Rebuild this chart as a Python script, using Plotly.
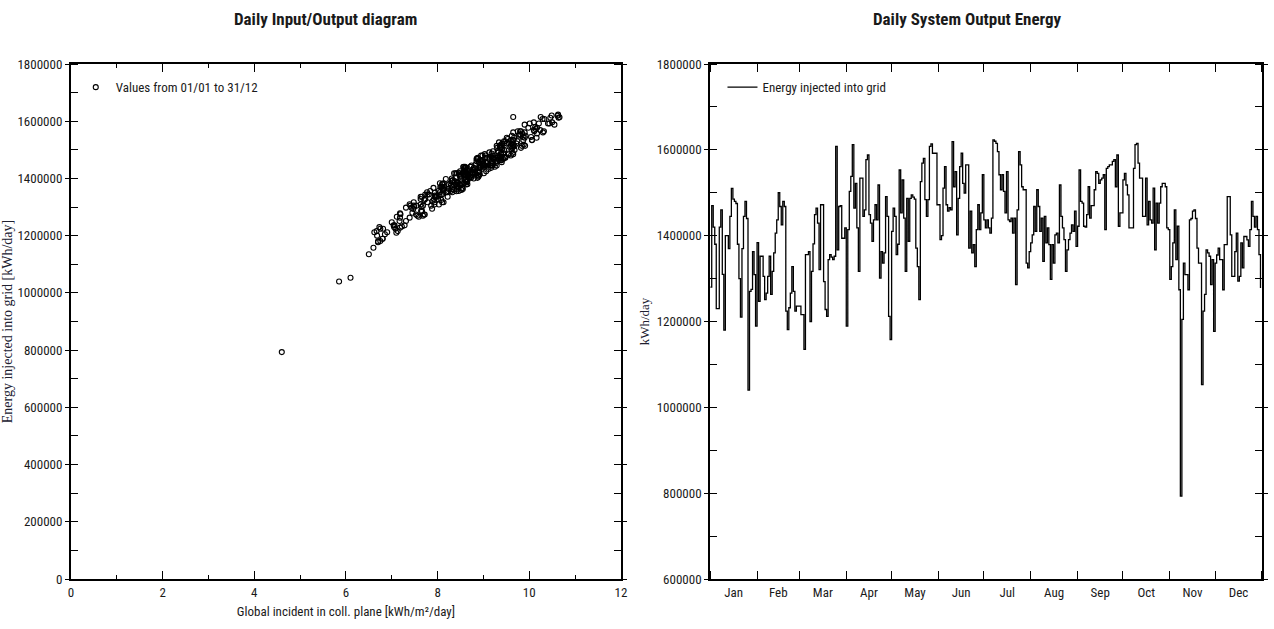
import pandas as pd
import plotly.graph_objects as go

# Daily energy injected into grid [kWh/day], by month
e_jan = [1280000,1470000,1420000,1380000,1230000,1230000,1420000,1460000,1310000,1180000,1400000,1400000,1370000,1445000,1510000,1485000,1480000,1475000,1380000,1300000,1210000,1370000,1445000,1480000,1440000,1040000,1270000,1275000,1363000,1309000,1189000]
e_feb = [1384000,1247000,1352000,1352000,1305000,1251000,1266000,1305000,1352000,1263000,1317000,1360000,1406000,1437000,1500000,1468000,1425000,1480000,1468000,1224000,1181000,1232000,1266000,1328000,1270000,1224000,1236000,1236000]
e_mar = [1236000,1216000,1216000,1135000,1356000,1356000,1363000,1200000,1317000,1381000,1449000,1464000,1429000,1321000,1472000,1472000,1293000,1228000,1212000,1344000,1356000,1350000,1344000,1352000,1608000,1367000,1468000,1470000,1394000,1394000,1418000]
e_apr = [1189000,1414000,1503000,1538000,1612000,1464000,1522000,1418000,1317000,1534000,1534000,1445000,1460000,1577000,1588000,1449000,1429000,1387000,1437000,1472000,1437000,1518000,1301000,1363000,1336000,1360000,1491000,1445000,1212000,1158000]
e_may = [1410000,1464000,1445000,1356000,1380000,1553000,1453000,1530000,1441000,1317000,1487000,1387000,1487000,1495000,1490000,1485000,1371000,1328000,1251000,1526000,1569000,1580000,1484000,1445000,1484000,1608000,1614000,1592000,1592000,1592000,1472000]
e_jun = [1472000,1391000,1400000,1511000,1561000,1472000,1457000,1465000,1460000,1619000,1514000,1549000,1402000,1487000,1561000,1592000,1522000,1499000,1565000,1565000,1371000,1457000,1360000,1379000,1328000,1414000,1472000,1414000,1453000,1542000]
e_jul = [1437000,1418000,1437000,1418000,1406000,1441000,1623000,1620000,1615000,1596000,1542000,1507000,1542000,1503000,1453000,1549000,1437000,1433000,1441000,1406000,1441000,1286000,1460000,1596000,1565000,1514000,1507000,1507000,1336000,1325000,1363000]
e_aug = [1383000,1402000,1468000,1410000,1507000,1468000,1410000,1441000,1340000,1445000,1383000,1418000,1379000,1298000,1379000,1336000,1402000,1406000,1383000,1518000,1445000,1418000,1391000,1317000,1367000,1391000,1406000,1425000,1410000,1457000,1375000]
e_sep = [1422000,1553000,1480000,1476000,1422000,1420000,1449000,1514000,1441000,1470000,1470000,1507000,1549000,1545000,1522000,1530000,1534000,1542000,1414000,1557000,1561000,1565000,1565000,1573000,1577000,1514000,1588000,1422000,1453000,1453000]
e_oct = [1530000,1545000,1518000,1495000,1418000,1418000,1418000,1557000,1612000,1615000,1569000,1534000,1534000,1445000,1445000,1534000,1425000,1480000,1437000,1429000,1511000,1367000,1476000,1429000,1476000,1514000,1522000,1522000,1514000,1418000,1414000]
e_nov = [1298000,1328000,1383000,1460000,1344000,1422000,1274000,793000,1205000,1336000,1309000,1309000,1274000,1437000,1440000,1457000,1460000,1440000,1371000,1336000,1336000,1053000,1224000,1263000,1367000,1360000,1352000,1286000,1344000,1177000]
e_dec = [1336000,1355000,1371000,1344000,1344000,1274000,1379000,1379000,1491000,1491000,1402000,1305000,1305000,1363000,1406000,1294000,1305000,1383000,1325000,1398000,1398000,1390000,1375000,1414000,1480000,1445000,1420000,1445000,1414000,1356000,1278000]

# Daily global incident irradiation in collector plane [kWh/m2/day], by month
g_jan = [7.45,9.38,8.63,8.65,6.73,7.05,8.56,9.19,7.39,6.70,8.51,8.79,8.06,9.03,9.40,9.65,9.20,9.36,8.10,7.65,7.10,8.08,9.01,8.95,9.02,5.85,7.56,7.19,8.24,8.03,6.80]
g_feb = [8.44,7.00,8.22,7.77,7.86,7.17,7.59,7.48,8.19,7.18,8.13,8.12,8.74,8.62,9.45,9.43,8.58,9.32,8.85,7.08,6.75,7.22,7.11,7.92,7.68,6.81,7.06,7.28]
g_mar = [7.04,7.13,6.67,6.50,8.23,8.02,8.55,6.68,7.93,8.11,8.99,9.39,8.61,7.89,8.88,9.31,7.47,7.18,6.62,8.07,8.46,7.94,8.03,8.32,10.33,8.54,8.88,9.21,8.33,8.60,8.36]
g_apr = [6.80,8.61,9.61,9.53,10.46,9.39,9.45,8.76,7.48,9.87,9.64,9.14,8.85,10.17,10.55,8.83,8.79,8.64,8.79,9.48,8.60,9.65,7.49,8.32,7.63,8.35,9.33,9.20,6.90,6.60]
g_may = [8.90,8.93,9.01,7.84,8.48,9.81,9.21,9.48,8.94,8.10,9.18,8.42,9.54,9.31,9.64,9.03,8.32,7.73,7.31,9.34,10.24,10.13,9.55,8.74,9.38,10.29,10.66,10.21,10.41,10.01,9.20]
g_jun = [9.08,8.65,8.31,9.57,10.30,9.04,9.05,9.34,8.99,10.62,9.29,9.92,8.40,9.44,9.65,10.44,9.61,9.68,9.82,10.11,8.15,9.40,8.12,8.49,7.63,8.68,9.46,8.48,9.08,9.51]
g_jul = [9.17,8.42,8.92,8.54,8.71,8.57,10.63,10.49,9.65,10.10,9.90,9.38,10.16,9.41,9.16,9.62,8.89,9.11,8.72,8.66,8.60,7.64,8.97,10.50,9.80,9.60,9.82,9.36,7.96,8.08,8.12]
g_aug = [8.05,8.73,9.13,8.88,9.30,9.24,8.50,9.25,7.94,9.09,8.13,8.71,8.62,7.43,8.41,7.66,8.68,8.49,8.58,9.38,8.98,9.01,8.31,7.78,8.46,8.37,8.89,8.49,8.67,8.90,8.43]
g_sep = [8.82,9.79,9.60,9.17,8.88,8.46,8.99,9.84,8.72,9.23,8.86,9.63,9.77,10.04,9.41,9.74,10.06,9.67,8.66,10.17,9.90,10.32,9.75,10.14,9.98,9.68,9.90,8.91,8.99,9.27]
g_oct = [9.45,9.86,9.88,9.21,8.76,8.39,8.82,9.85,10.64,10.25,10.10,10.06,9.60,8.94,9.16,9.66,9.06,8.98,8.92,8.64,9.65,7.91,9.40,8.77,9.48,9.36,9.72,9.51,9.91,8.64,8.81]
g_nov = [7.31,8.01,8.28,9.27,7.81,8.77,7.72,4.60,6.85,7.96,7.93,7.63,7.70,8.60,8.94,8.90,9.19,8.56,8.45,7.94,8.22,6.10,6.75,7.39,8.12,8.52,8.05,7.66,7.78,6.70]
g_dec = [7.98,8.41,8.09,8.10,7.73,7.53,8.24,8.54,9.13,9.39,8.87,7.54,7.68,8.42,8.51,7.88,7.41,8.43,7.71,8.63,8.18,8.62,8.29,8.92,9.05,9.03,8.59,9.29,8.61,8.29,7.18]

energy = e_jan + e_feb + e_mar + e_apr + e_may + e_jun + e_jul + e_aug + e_sep + e_oct + e_nov + e_dec
irradiation = g_jan + g_feb + g_mar + g_apr + g_may + g_jun + g_jul + g_aug + g_sep + g_oct + g_nov + g_dec
days = pd.date_range("2023-01-01", periods=len(energy), freq="D")

titles = ["Daily Input/Output diagram", "Daily System Output Energy"]
scatter_name = "Values from 01/01 to 31/12"
line_name = "Energy injected into grid"

NARROW = "Liberation Sans Narrow, Arial Narrow, Roboto Condensed, Liberation Sans, Arial, sans-serif"
SERIF = "Liberation Serif, Times New Roman, serif"
TXT = "#1a1a1a"

fig = go.Figure()
fig.add_trace(go.Scatter(
    x=irradiation, y=energy, mode="markers", name=scatter_name,
    marker=dict(symbol="circle-open", size=5, color="black", line=dict(width=1.1, color="black")),
    xaxis="x", yaxis="y", legend="legend"))
fig.add_trace(go.Scatter(
    x=days, y=energy, mode="lines", name=line_name,
    line=dict(shape="hv", color="black", width=1.3),
    xaxis="x2", yaxis="y2", legend="legend2"))

axis_common = dict(showline=True, linewidth=2, linecolor="black", mirror="allticks",
                   showgrid=False, zeroline=False, tickcolor="black",
                   tickfont=dict(family=NARROW, size=13, color=TXT))

L_DOM = [0.0, 0.4617]
R_DOM = [0.5367, 1.0]

fig.update_layout(
    width=1274, height=629,
    margin=dict(l=68, r=6, t=64, b=50),
    paper_bgcolor="white", plot_bgcolor="white",
    font=dict(family=NARROW, size=13, color=TXT),
    xaxis=dict(domain=L_DOM, range=[0, 12], dtick=2, tick0=0, ticks="inside", ticklen=8,
               minor=dict(dtick=1, ticks="inside", ticklen=4, tickcolor="black"),
               title=dict(text="Global incident in coll. plane [kWh/m²/day]", standoff=8,
                          font=dict(family=NARROW, size=13, color=TXT)),
               anchor="y", **axis_common),
    yaxis=dict(domain=[0, 1], range=[0, 1800000], dtick=200000, tick0=0, tickformat="d",
               ticks="outside", ticklen=4,
               minor=dict(dtick=100000, ticks="inside", ticklen=7, tickcolor="black"),
               title=dict(text="Energy injected into grid [kWh/day]", standoff=2,
                          font=dict(family=SERIF, size=14, color="#202030")),
               anchor="x", **axis_common),
    xaxis2=dict(domain=R_DOM, type="date", range=["2023-01-01", "2024-01-01"],
                dtick="M1", tick0="2023-01-01", tickformat="%b", ticklabelmode="period",
                ticks="inside", ticklen=8, anchor="y2", **axis_common),
    yaxis2=dict(domain=[0, 1], range=[600000, 1800000], dtick=200000, tickformat="d",
                ticks="outside", ticklen=4,
                minor=dict(dtick=100000, ticks="inside", ticklen=7, tickcolor="black"),
                title=dict(text="kWh/day", standoff=4,
                           font=dict(family=SERIF, size=13, color="#202030")),
                anchor="x2", **axis_common),
    legend=dict(x=0.004, y=0.955, xanchor="left", yanchor="middle", bgcolor="rgba(0,0,0,0)",
                font=dict(family=NARROW, size=13, color=TXT), itemwidth=30),
    legend2=dict(x=0.547, y=0.955, xanchor="left", yanchor="middle", bgcolor="rgba(0,0,0,0)",
                 font=dict(family=NARROW, size=13, color=TXT), itemwidth=30),
    showlegend=True,
    annotations=[
        dict(text="<b>" + titles[0] + "</b>", xref="paper", yref="paper", x=0.214, y=1.087,
             xanchor="center", yanchor="middle", showarrow=False,
             font=dict(family=NARROW, size=17, color=TXT)),
        dict(text="<b>" + titles[1] + "</b>", xref="paper", yref="paper", x=0.753, y=1.087,
             xanchor="center", yanchor="middle", showarrow=False,
             font=dict(family=NARROW, size=17, color=TXT)),
    ],
)

fig.write_html("out.html", config={"displayModeBar": False},
               post_script="document.body.style.margin='0';")
